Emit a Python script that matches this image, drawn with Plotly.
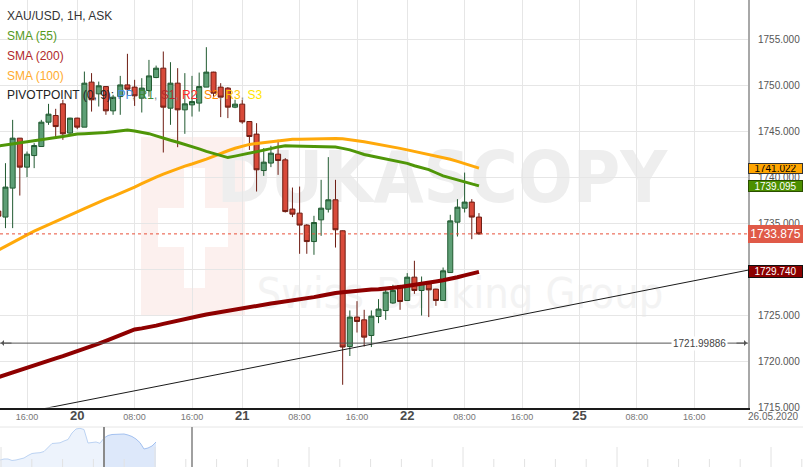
import plotly.graph_objects as go

# ---------------- data ----------------
opens = [1736.35, 1735.70, 1738.85, 1744.28, 1741.13, 1742.39, 1743.37, 1746.02, 1746.74, 1748.01,
         1744.83, 1746.46, 1745.48, 1750.37, 1749.10, 1749.89, 1747.25, 1748.80, 1750.07, 1749.83,
         1748.63, 1749.46, 1750.87, 1751.89, 1747.54, 1750.26, 1747.36, 1747.90, 1748.09, 1749.83,
         1751.46, 1749.83, 1749.72, 1747.65, 1747.98, 1746.09, 1744.72, 1740.76, 1741.57, 1742.54,
         1741.92, 1736.57, 1736.13, 1734.83, 1733.04, 1735.40, 1736.56, 1737.58, 1734.21, 1721.63,
         1724.83, 1724.53, 1722.83, 1724.89, 1725.54, 1726.36, 1728.26, 1726.63, 1729.17, 1727.72,
         1728.45, 1727.87, 1726.63, 1729.67, 1735.15, 1736.67, 1737.33, 1735.70]
highs = [1736.50, 1741.56, 1746.27, 1744.30, 1742.83, 1743.74, 1746.27, 1748.01, 1747.47, 1748.45,
         1746.50, 1746.50, 1751.52, 1751.35, 1750.43, 1749.95, 1748.99, 1751.05, 1753.45, 1750.62,
         1750.80, 1752.79, 1752.17, 1753.70, 1752.54, 1751.89, 1751.35, 1751.05, 1751.41, 1754.17,
         1751.50, 1750.26, 1749.83, 1748.45, 1748.45, 1746.10, 1745.91, 1743.20, 1743.45, 1744.10,
         1742.11, 1738.91, 1739.02, 1734.93, 1735.84, 1739.75, 1742.22, 1739.75, 1734.25, 1725.55,
         1726.56, 1725.62, 1725.55, 1726.78, 1727.87, 1728.34, 1728.34, 1729.61, 1730.95, 1729.24,
         1728.70, 1727.90, 1730.22, 1735.95, 1737.65, 1740.54, 1737.65, 1736.13]
lows = [1735.60, 1734.50, 1734.50, 1738.04, 1740.04, 1741.02, 1743.37, 1745.73, 1744.28, 1744.10,
        1744.75, 1745.26, 1745.48, 1747.17, 1747.72, 1746.82, 1746.82, 1746.82, 1748.99, 1747.79,
        1747.07, 1748.80, 1750.80, 1742.72, 1745.73, 1743.30, 1744.75, 1746.63, 1747.17, 1749.83,
        1748.80, 1746.57, 1746.46, 1747.54, 1745.85, 1743.00, 1738.48, 1740.18, 1741.13, 1740.29,
        1736.20, 1735.70, 1731.71, 1731.71, 1731.60, 1733.66, 1736.20, 1732.39, 1717.47, 1720.60,
        1723.15, 1721.63, 1721.57, 1724.17, 1724.53, 1726.27, 1725.62, 1726.63, 1727.36, 1725.00,
        1724.83, 1726.05, 1726.63, 1729.67, 1733.59, 1736.20, 1733.30, 1733.77]
closes = [1735.80, 1738.96, 1744.28, 1741.13, 1742.54, 1743.48, 1746.02, 1746.89, 1745.54, 1744.75,
          1746.46, 1745.48, 1750.26, 1748.45, 1749.97, 1747.25, 1748.74, 1750.07, 1749.61, 1748.88,
          1749.72, 1751.05, 1751.89, 1747.65, 1750.26, 1747.36, 1748.01, 1748.26, 1749.89, 1751.46,
          1749.17, 1748.74, 1747.65, 1747.98, 1746.05, 1744.46, 1740.84, 1741.67, 1742.65, 1741.85,
          1736.30, 1736.02, 1734.83, 1733.04, 1735.11, 1736.67, 1737.58, 1734.32, 1721.57, 1724.83,
          1724.35, 1722.65, 1724.93, 1725.70, 1727.54, 1727.73, 1726.52, 1729.17, 1727.72, 1728.52,
          1727.79, 1726.63, 1729.86, 1735.29, 1736.78, 1737.33, 1735.70, 1733.875]

sma55 = [1743.42, 1743.53, 1743.64, 1743.75, 1743.86, 1743.97, 1744.08, 1744.18, 1744.32, 1744.45,
         1744.60, 1744.74, 1744.77, 1744.79, 1744.83, 1744.89, 1744.97, 1745.05, 1745.16, 1745.05,
         1744.91, 1744.77, 1744.53, 1744.27, 1744.05, 1743.84, 1743.62, 1743.37, 1743.11, 1742.85,
         1742.61, 1742.38, 1742.17, 1742.33, 1742.48, 1742.64, 1742.80, 1742.97, 1743.14, 1743.33,
         1743.45, 1743.43, 1743.42, 1743.40, 1743.39, 1743.38, 1743.38, 1743.32, 1743.17, 1743.01,
         1742.76, 1742.50, 1742.34, 1742.17, 1742.03, 1741.87, 1741.70, 1741.54, 1741.28, 1741.10,
         1740.86, 1740.52, 1740.18, 1739.96, 1739.75, 1739.55, 1739.35, 1739.095]
sma100 = [1732.10, 1732.54, 1732.95, 1733.36, 1733.77, 1734.18, 1734.54, 1734.90, 1735.24, 1735.59,
          1735.92, 1736.26, 1736.61, 1736.97, 1737.33, 1737.65, 1737.96, 1738.27, 1738.59, 1738.96,
          1739.34, 1739.72, 1740.05, 1740.37, 1740.68, 1741.01, 1741.24, 1741.47, 1741.71, 1742.00,
          1742.30, 1742.63, 1742.91, 1743.18, 1743.41, 1743.60, 1743.70, 1743.79, 1743.88, 1743.99,
          1744.08, 1744.15, 1744.17, 1744.20, 1744.22, 1744.24, 1744.25, 1744.25, 1744.22, 1744.14,
          1744.01, 1743.88, 1743.75, 1743.62, 1743.49, 1743.33, 1743.17, 1743.01, 1742.85, 1742.68,
          1742.51, 1742.34, 1742.16, 1741.99, 1741.75, 1741.51, 1741.27, 1741.022]
sma200 = [1718.30, 1718.57, 1718.83, 1719.09, 1719.35, 1719.60, 1719.85, 1720.10, 1720.35, 1720.59,
          1720.84, 1721.11, 1721.39, 1721.67, 1721.95, 1722.25, 1722.58, 1722.89, 1723.20, 1723.48,
          1723.60, 1723.72, 1723.90, 1724.09, 1724.28, 1724.47, 1724.64, 1724.79, 1724.95, 1725.11,
          1725.25, 1725.39, 1725.53, 1725.68, 1725.82, 1725.95, 1726.07, 1726.18, 1726.30, 1726.41,
          1726.51, 1726.61, 1726.71, 1726.85, 1727.00, 1727.15, 1727.32, 1727.45, 1727.53, 1727.62,
          1727.70, 1727.78, 1727.82, 1727.85, 1727.90, 1728.01, 1728.11, 1728.21, 1728.30, 1728.42,
          1728.55, 1728.70, 1728.83, 1728.97, 1729.16, 1729.37, 1729.58, 1729.740]

tick_idx = [4, 11, 19, 27, 34, 42, 50, 57, 65, 73, 81, 89, 97]
tick_lbl = ["16:00", "20", "08:00", "16:00", "21", "08:00", "16:00", "22", "08:00", "16:00", "25", "08:00", "16:00"]
day_lbls = {"20", "21", "22", "25"}
y_ticks = [1715, 1720, 1725, 1730, 1735, 1740, 1745, 1750, 1755]
end_date = "26.05.2020"

last_price = 1733.875
level_price = 1721.99886
trend_idx = [0, 105]
trend_price = [1713.90, 1730.01]

nav_vals = [7, 8, 8, 6.5, 7, 7.7, 9, 11.5, 13.5, 14, 14.3, 15.5, 20, 23.5, 23.8, 24.2, 26, 27.5, 34, 38,
            38.7, 37.5, 24, 24.5, 25, 23.7, 29, 31.5, 32.5, 32.7, 33, 33, 32, 30.5, 28, 24.3, 18, 19, 21, 25]
nav_split = 26

# ---------------- layout helpers ----------------
FIG_W, FIG_H = 803, 467
PLOT_W = 748.0
PLOT_BOTTOM = 407.5


def px(x):
    return x / PLOT_W


def py(y):
    return 1 - y / FIG_H


FONT = "Liberation Sans, Arial, sans-serif"
WM_FONT = "Liberation Sans Narrow, DejaVu Sans Condensed, Arial Narrow, sans-serif"
idx = list(range(len(opens)))

fig = go.Figure()

fig.add_trace(go.Candlestick(
    x=idx, open=opens, high=highs, low=lows, close=closes,
    increasing=dict(fillcolor="#5e9f76", line=dict(color="#215a31", width=1)),
    decreasing=dict(fillcolor="#d84a3a", line=dict(color="#6e1c12", width=1)),
    whiskerwidth=0, hoverinfo="skip", xaxis="x", yaxis="y"))

fig.add_trace(go.Scatter(x=idx, y=sma200, mode="lines", line=dict(color="#8e0000", width=4),
                         hoverinfo="skip", xaxis="x", yaxis="y"))
fig.add_trace(go.Scatter(x=idx, y=sma100, mode="lines", line=dict(color="#ffa90a", width=3),
                         hoverinfo="skip", xaxis="x", yaxis="y"))
fig.add_trace(go.Scatter(x=idx, y=sma55, mode="lines", line=dict(color="#4f9608", width=3),
                         hoverinfo="skip", xaxis="x", yaxis="y"))
fig.add_trace(go.Scatter(x=trend_idx, y=trend_price, mode="lines", line=dict(color="#1a1a1a", width=1),
                         hoverinfo="skip", xaxis="x", yaxis="y"))

# navigator
nav_x = list(range(len(nav_vals)))
fig.add_trace(go.Scatter(x=nav_x[:nav_split + 1], y=nav_vals[:nav_split + 1], mode="lines",
                         fill="tozeroy", fillcolor="#edf3fc", line=dict(color="#bcd3f3", width=1),
                         hoverinfo="skip", xaxis="x2", yaxis="y2"))
fig.add_trace(go.Scatter(x=nav_x[nav_split:], y=nav_vals[nav_split:], mode="lines",
                         fill="tozeroy", fillcolor="#dde8fa", line=dict(color="#a3c1f0", width=1),
                         hoverinfo="skip", xaxis="x2", yaxis="y2"))

shapes = []
# watermark logo
shapes.append(dict(type="rect", xref="paper", yref="paper", x0=px(141), x1=px(245), y0=py(316), y1=py(137),
                   fillcolor="#fcf0ee", line=dict(width=0), layer="below"))
shapes.append(dict(type="rect", xref="paper", yref="paper", x0=px(184), x1=px(205), y0=py(288), y1=py(168),
                   fillcolor="white", line=dict(width=0), layer="below"))
shapes.append(dict(type="rect", xref="paper", yref="paper", x0=px(158), x1=px(228), y0=py(247), y1=py(208),
                   fillcolor="white", line=dict(width=0), layer="below"))
shapes.append(dict(type="rect", xref="paper", yref="paper", x0=px(242), x1=px(642), y0=py(216), y1=py(128),
                   fillcolor="rgba(0,0,0,0)", line=dict(width=0), layer="below",
                   label=dict(text="<b>DUKASCOPY</b>", textposition="middle center",
                              font=dict(size=72, color="#eeeeee", family=WM_FONT))))
shapes.append(dict(type="rect", xref="paper", yref="paper", x0=px(274), x1=px(646), y0=py(335), y1=py(245),
                   fillcolor="rgba(0,0,0,0)", line=dict(width=0), layer="below",
                   label=dict(text="Swiss Banking Group", textposition="middle center",
                              font=dict(size=43, color="#f3f3f3", family=WM_FONT))))
# current price line
shapes.append(dict(type="line", xref="paper", yref="y", x0=0, x1=1, y0=last_price, y1=last_price,
                   line=dict(color="#e8503a", width=1, dash="3px,3px")))
# horizontal level line
shapes.append(dict(type="line", xref="paper", yref="y", x0=0, x1=1, y0=level_price, y1=level_price,
                   line=dict(color="#555555", width=1)))
# navigator decorations
shapes.append(dict(type="line", xref="paper", yref="paper", x0=0, x1=FIG_W / PLOT_W, y0=py(427), y1=py(427),
                   line=dict(color="#e6e6e6", width=1)))
for k in range(27):
    xx = 1 + 30.8 * k
    top = 447 if k % 5 == 0 else 459
    shapes.append(dict(type="line", xref="paper", yref="paper", x0=px(xx), x1=px(xx), y0=py(467), y1=py(top),
                       line=dict(color="#e2e2e2", width=1)))
shapes.append(dict(type="line", xref="paper", yref="paper", x0=px(104), x1=px(104), y0=py(467), y1=py(427),
                   line=dict(color="#8a8a8a", width=2)))
shapes.append(dict(type="line", xref="paper", yref="paper", x0=px(192), x1=px(192), y0=py(467), y1=py(427),
                   line=dict(color="#a0a0a0", width=2)))

ann = []
# legend texts
legend_items = [
    ("XAU/USD, 1H, ASK", "#333333", 16),
    ("SMA (55)", "#55991c", 36),
    ("SMA (200)", "#b02a2a", 56),
    ("SMA (100)", "#ffab2e", 76),
]
for txt, col, yy in legend_items:
    ann.append(dict(text=txt, xref="paper", yref="paper", x=px(5), y=py(yy), xanchor="left", yanchor="middle",
                    showarrow=False, font=dict(size=12, color=col)))
sep = '<span style="color:#888888">, </span>'
piv = ('PIVOTPOINT (0, 9): '
       '<span style="color:#4a8fe0">PP</span>' + sep +
       '<span style="color:#3d8b37">R1</span>' + sep +
       '<span style="color:#b52a2a">S1</span>' + sep +
       '<span style="color:#ff2a2a">R2</span>' + sep +
       '<span style="color:#ff8a00">S2</span>' + sep +
       '<span style="color:#ffc400">R3</span>' + sep +
       '<span style="color:#ffe500">S3</span>')
ann.append(dict(text=piv, xref="paper", yref="paper", x=px(5), y=py(95), xanchor="left", yanchor="middle",
                showarrow=False, font=dict(size=12, color="#222222")))

# right-side value boxes
boxes = [
    (sma100[-1], f"{sma100[-1]:.3f}", "#ffa500", "#000000", "#333333", 1, 10, 7),
    (sma55[-1], f"{sma55[-1]:.3f}", "#4c8f00", "#ffffff", "#2a4f00", 1, 10, 8),
    (sma200[-1], f"{sma200[-1]:.3f}", "#8b0000", "#ffffff", "#111111", 1, 10, 9),
    (last_price, f"{last_price:.3f}", "#e05a48", "#ffffff", "#e05a48", 0, 12, 16),
]
for val, txt, bg, fc, bc, bw, fs, hh in boxes:
    ann.append(dict(text=txt, xref="paper", yref="y", x=1, y=val, xanchor="left", yanchor="middle",
                    showarrow=False, bgcolor=bg, bordercolor=bc, borderwidth=bw, borderpad=1,
                    width=55 - 2 - 2 * bw, height=hh, align="center", font=dict(size=fs, color=fc)))

# level line label + arrows
ann.append(dict(text=f"{level_price:.5f}", xref="paper", yref="y", x=px(699), y=level_price,
                xanchor="center", yanchor="middle", showarrow=False, bgcolor="white", borderpad=1,
                font=dict(size=10, color="#444444")))
ann.append(dict(text="", xref="paper", yref="y", x=px(1), y=level_price, ax=12, ay=0, axref="pixel", ayref="pixel",
                showarrow=True, arrowhead=1, arrowsize=1, arrowwidth=1, arrowcolor="#555555"))
ann.append(dict(text="", xref="paper", yref="y", x=px(747), y=level_price, ax=-12, ay=0, axref="pixel",
                ayref="pixel", showarrow=True, arrowhead=1, arrowsize=1, arrowwidth=1, arrowcolor="#555555"))

# end date label
ann.append(dict(text=end_date, xref="paper", yref="paper", x=px(746), y=py(416), xanchor="left", yanchor="middle",
                showarrow=False, font=dict(size=10, color="#666666")))

ticktext = [f'<span style="font-size:13px;color:#4a4a4a"><b>{t}</b></span>' if t in day_lbls else t
            for t in tick_lbl]

fig.update_layout(
    width=FIG_W, height=FIG_H, autosize=False,
    margin=dict(l=0, r=FIG_W - PLOT_W, t=0, b=0, pad=0, autoexpand=False),
    paper_bgcolor="white", plot_bgcolor="white",
    showlegend=False,
    boxgap=0.3, boxgroupgap=0,
    font=dict(family=FONT),
    shapes=shapes, annotations=ann,
    xaxis=dict(domain=[0, 1], range=[0.237, 104.5], anchor="y", tickvals=tick_idx, ticktext=ticktext,
               tickfont=dict(size=9, color="#777777"), showgrid=True, gridcolor="#e6e6e6", gridwidth=1,
               showline=True, linecolor="#1a1a1a", linewidth=1.5, zeroline=False, ticks="",
               automargin=False, rangeslider=dict(visible=False), fixedrange=True),
    yaxis=dict(domain=[1 - PLOT_BOTTOM / FIG_H, 1], range=[1715.0, 1759.3], anchor="x", side="right",
               tickvals=y_ticks, ticktext=[f"{v:.3f}" for v in y_ticks],
               tickfont=dict(size=10, color="#555555"), showgrid=True, gridcolor="#e6e6e6", gridwidth=1,
               showline=True, linecolor="#a8a8a8", linewidth=2, zeroline=False, ticks="",
               automargin=False, ticklabelstandoff=6, fixedrange=True),
    xaxis2=dict(domain=[0, 1], range=[0, PLOT_W / 4], anchor="y2", visible=False, fixedrange=True),
    yaxis2=dict(domain=[0, 40 / FIG_H], range=[0, 40], anchor="x2", visible=False, fixedrange=True),
)

fig.write_html("out.html", config={"displayModeBar": False, "responsive": False},
               post_script="document.body.style.margin='0';document.body.style.padding='0';")
